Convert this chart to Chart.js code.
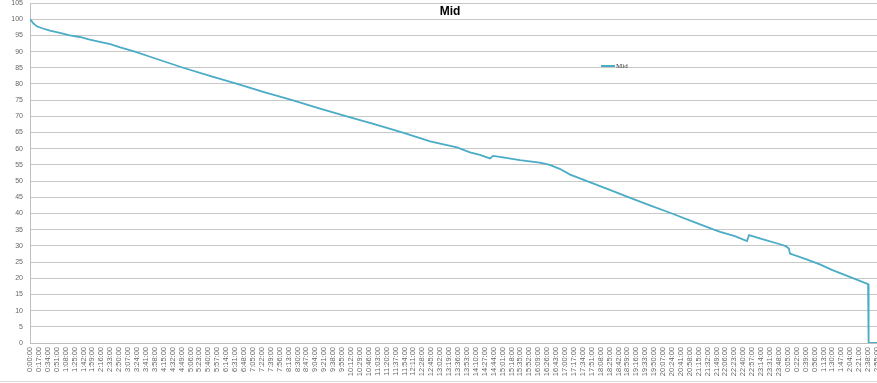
<!DOCTYPE html>
<html><head><meta charset="utf-8">
<style>html,body{margin:0;padding:0;background:#fff;overflow:hidden}#wrap{width:877px;height:383px;position:relative}</style>
<script src="https://cdn.jsdelivr.net/npm/chart.js@4.4.1/dist/chart.umd.min.js"></script>
</head><body><div id="wrap"><canvas id="c" width="877" height="383"></canvas></div>
<script>
// elapsed minutes from 0:00:00
const minutes = [0, 6, 13, 23, 38, 57, 76, 95, 114, 133, 153, 172, 200, 229, 292, 343, 395, 448, 500, 553, 604, 658, 711, 763, 814, 839, 858, 877, 883, 896, 934, 972, 991, 1010, 1030, 1062, 1102, 1142, 1182, 1224, 1264, 1304, 1316, 1344, 1367, 1371, 1398, 1430, 1441, 1447, 1449, 1478, 1506, 1529, 1563, 1598, 1599, 1615];
const midValues = [100, 98.8, 97.8, 97.2, 96.5, 95.8, 95.0, 94.5, 93.7, 93.0, 92.3, 91.3, 90.0, 88.4, 85.0, 82.5, 80.0, 77.4, 75.0, 72.4, 70.0, 67.5, 65.0, 62.3, 60.4, 58.9, 58.1, 57.0, 57.8, 57.5, 56.5, 55.7, 55.0, 53.8, 52.0, 50.0, 47.5, 45.0, 42.5, 40.0, 37.5, 35.0, 34.3, 33.0, 31.5, 33.3, 32.0, 30.5, 29.9, 29.2, 27.6, 26.0, 24.3, 22.6, 20.4, 18.2, 0, 0];
const seriesName = 'Mid';
const chartTitle = 'Mid';
const xMax = 1615;       // minutes shown
const xTickStep = 17;    // one label every 17 minutes
const yMin = 0, yMax = 105, yStep = 5;

function fmtTime(m){
  const h = Math.floor(m / 60) % 24;
  const mm = Math.round(m % 60);
  return h + ':' + String(mm).padStart(2, '0') + ':00';
}

const overlay = {
  id: 'overlay',
  afterDraw(chart){
    const ctx = chart.ctx;
    ctx.save();
    ctx.strokeStyle = '#d9d9d9'; ctx.lineWidth = 1;
    ctx.beginPath(); ctx.moveTo(0, 381.5); ctx.lineTo(877, 381.5); ctx.stroke();
    ctx.fillStyle = '#000';
    ctx.font = 'bold 12px "Liberation Sans", Arial, sans-serif';
    ctx.textAlign = 'center'; ctx.textBaseline = 'middle';
    ctx.fillText(chartTitle, 450, 12);
    ctx.strokeStyle = '#4BACC6'; ctx.lineWidth = 2;
    ctx.beginPath(); ctx.moveTo(601, 66); ctx.lineTo(615, 66); ctx.stroke();
    ctx.fillStyle = '#333';
    ctx.font = '7px "Liberation Serif", serif';
    ctx.textAlign = 'left';
    ctx.fillText(seriesName, 616, 66);
    ctx.restore();
  }
};

new Chart(document.getElementById('c').getContext('2d'), {
  type: 'line',
  data: { datasets: [{
    label: seriesName,
    data: minutes.map((m, i) => ({ x: m, y: midValues[i] })),
    borderColor: '#4BACC6', borderWidth: 1.8, pointRadius: 0, tension: 0, fill: false
  }]},
  options: {
    responsive: false, animation: false,
    layout: { padding: { top: 3, right: 0, bottom: 0, left: 0 } },
    plugins: { legend: { display: false }, title: { display: false }, tooltip: { enabled: false } },
    scales: {
      x: {
        type: 'linear', min: 0, max: xMax,
        afterFit(s){ s.paddingLeft = 0; s.paddingRight = 0; s.height = 40; },
        grid: { display: false, drawTicks: false },
        border: { color: '#bfbfbf' },
        ticks: { stepSize: xTickStep, autoSkip: false, maxTicksLimit: 300, includeBounds: false,
          minRotation: 90, maxRotation: 90, padding: 4,
          font: { size: 7.5, family: '"Liberation Sans", Arial, sans-serif' }, color: '#666666',
          callback: v => fmtTime(v) }
      },
      y: {
        min: yMin, max: yMax,
        afterFit(s){ s.width = 30; s.paddingTop = 0; s.paddingBottom = 0; },
        grid: { color: '#c8c8c8', drawTicks: false },
        border: { color: '#bfbfbf' },
        ticks: { stepSize: yStep, maxTicksLimit: 60, padding: 7,
          font: { size: 7, family: '"Liberation Sans", Arial, sans-serif' }, color: '#666666' }
      }
    }
  },
  plugins: [overlay]
});
</script>
</body></html>
